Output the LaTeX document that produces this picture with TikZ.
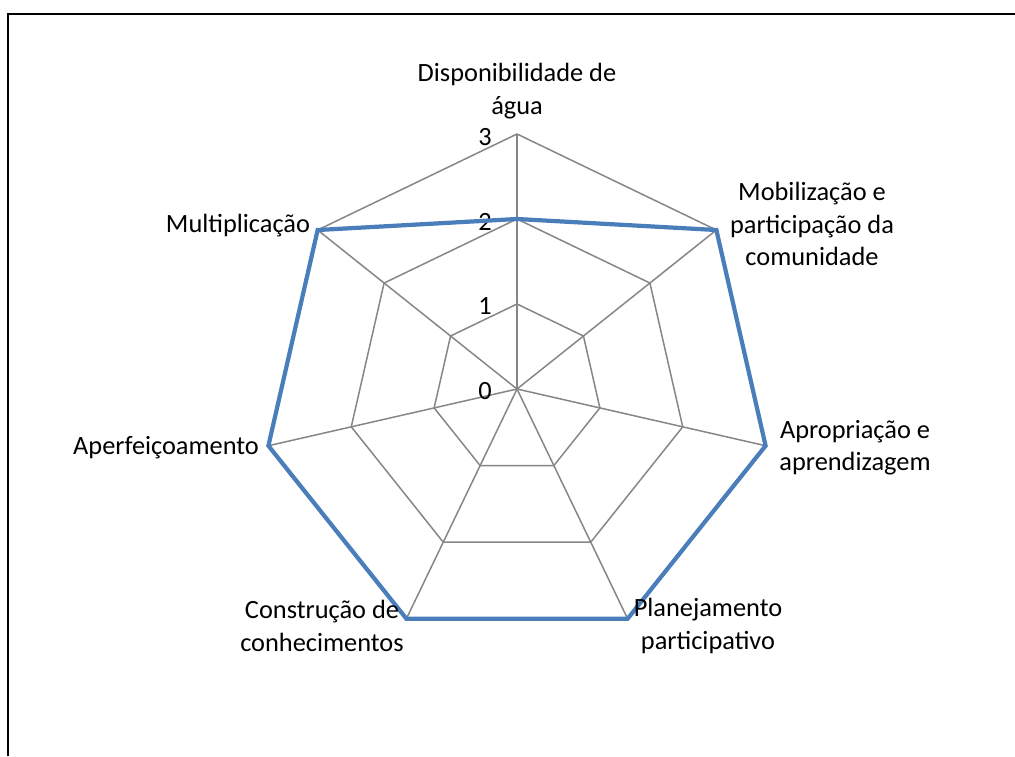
\documentclass[tikz,border=0pt]{standalone}
\usepackage{fontspec}
\setmainfont{Carlito}
\usepackage{tikz}
\usetikzlibrary{positioning, calc}

\definecolor{seriesblue}{RGB}{74,126,187}
\definecolor{gridgray}{RGB}{134,134,134}

\begin{document}
\begin{tikzpicture}[
    gridline/.style={draw=gridgray, line width=0.85pt},
    series/.style={draw=seriesblue, line width=2.4pt, line join=miter},
    catlabel/.style={font=\fontsize{15}{18.4}\selectfont, align=center, inner sep=0pt},
    ticklabel/.style={font=\fontsize{15}{18}\selectfont, anchor=east, inner sep=0pt}
]

    % Canvas and frame
    \useasboundingbox (0,0) rectangle (20.3,15.12);
    \draw[line width=1pt] (0.16,0) -- (0.16,14.84) -- (20.3,14.84);

    % Centre of the chart
    \coordinate (c) at (10.34,7.34);

    % Grid rings (levels 1, 2, 3)
    \draw[gridline] ($(c)+(90:1.7)$) -- ($(c)+(38.57:1.7)$) -- ($(c)+(-12.86:1.7)$) -- ($(c)+(-64.29:1.7)$)
        -- ($(c)+(-115.71:1.7)$) -- ($(c)+(-167.14:1.7)$) -- ($(c)+(141.43:1.7)$) -- cycle;
    \draw[gridline] ($(c)+(90:3.4)$) -- ($(c)+(38.57:3.4)$) -- ($(c)+(-12.86:3.4)$) -- ($(c)+(-64.29:3.4)$)
        -- ($(c)+(-115.71:3.4)$) -- ($(c)+(-167.14:3.4)$) -- ($(c)+(141.43:3.4)$) -- cycle;
    \draw[gridline] ($(c)+(90:5.1)$) -- ($(c)+(38.57:5.1)$) -- ($(c)+(-12.86:5.1)$) -- ($(c)+(-64.29:5.1)$)
        -- ($(c)+(-115.71:5.1)$) -- ($(c)+(-167.14:5.1)$) -- ($(c)+(141.43:5.1)$) -- cycle;

    % Spokes
    \draw[gridline] (c) -- ($(c)+(90:5.1)$);
    \draw[gridline] (c) -- ($(c)+(38.57:5.1)$);
    \draw[gridline] (c) -- ($(c)+(-12.86:5.1)$);
    \draw[gridline] (c) -- ($(c)+(-64.29:5.1)$);
    \draw[gridline] (c) -- ($(c)+(-115.71:5.1)$);
    \draw[gridline] (c) -- ($(c)+(-167.14:5.1)$);
    \draw[gridline] (c) -- ($(c)+(141.43:5.1)$);

    % Axis values
    \node[ticklabel] (t0) at (9.84,7.30) {0};
    \node[ticklabel] (t1) at (9.84,8.99) {1};
    \node[ticklabel] (t2) at (9.84,10.68) {2};
    \node[ticklabel] (t3) at (9.84,12.38) {3};

    % Data series
    \draw[series] ($(c)+(90:3.4)$) -- ($(c)+(38.57:5.1)$) -- ($(c)+(-12.86:5.1)$) -- ($(c)+(-64.29:5.1)$)
        -- ($(c)+(-115.71:5.1)$) -- ($(c)+(-167.14:5.1)$) -- ($(c)+(141.43:5.1)$) -- cycle;

    % Category labels
    \node[catlabel] (disp) at (10.34,13.30) {Disponibilidade de\\água};
    \node[catlabel] (mobi) at (16.24,10.64) {Mobilização e\\participação da\\comunidade};
    \node[catlabel] (apro) at (17.10,6.16) {Apropriação e\\aprendizagem};
    \node[catlabel] (plan) at (14.16,2.60) {Planejamento\\participativo};
    \node[catlabel] (cons) at (6.44,2.60) {Construção de\\conhecimentos};
    \node[catlabel] (aper) at (3.32,6.16) {Aperfeiçoamento};
    \node[catlabel] (mult) at (4.76,10.60) {Multiplicação};

\end{tikzpicture}
\end{document}
